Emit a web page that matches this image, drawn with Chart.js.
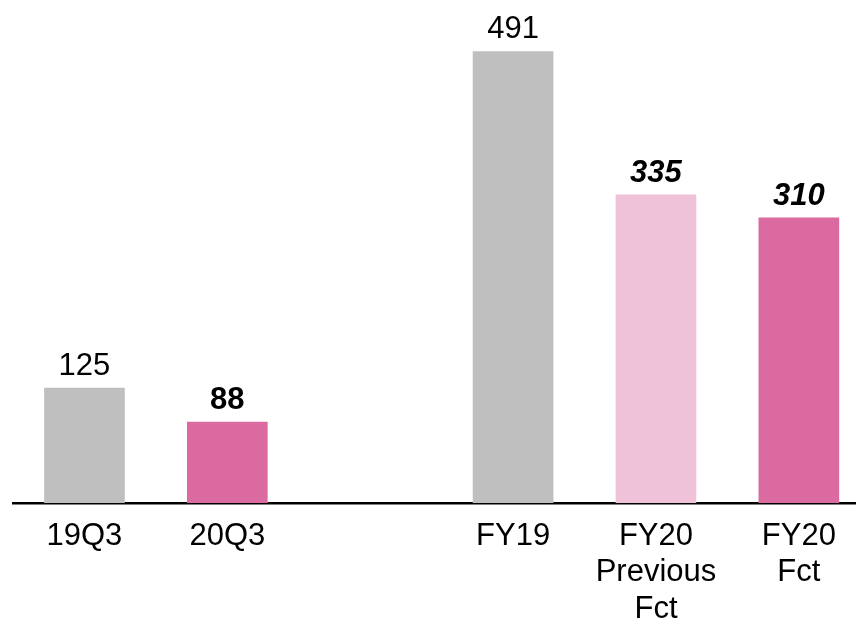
<!DOCTYPE html>
<html>
<head>
<meta charset="utf-8">
<script src="https://cdn.jsdelivr.net/npm/chart.js@4/dist/chart.umd.min.js"></script>
<style>
  html, body { margin: 0; padding: 0; background: #ffffff; overflow: hidden; }
  #wrap { position: relative; width: 856px; height: 623px; }
</style>
</head>
<body>
<div id="wrap"><canvas id="chart"></canvas></div>
<script>
// Category slots along the axis (the empty slot separates quarters from full years)
const categories = [
  ['19Q3'],
  ['20Q3'],
  [''],
  ['FY19'],
  ['FY20', 'Previous', 'Fct'],
  ['FY20', 'Fct']
];
// Values per slot (null = empty slot)
const values = [125, 88, null, 491, 335, 310];

// Appearance
const GRAY = '#BFBFBF';
const PINK = '#DB6AA0';
const LIGHT_PINK = '#F0C2DA';
const barColors = [GRAY, PINK, GRAY, GRAY, LIGHT_PINK, PINK];
const labelFonts = ['normal', 'bold', 'normal', 'normal', 'italic bold', 'italic bold'];
const FONT_FAMILY = "'Liberation Sans', Arial, sans-serif";
const FONT_SIZE = 31;

const points = [];
values.forEach((v, i) => { if (v !== null) points.push({ x: i, y: v }); });
const pointColors = [];
values.forEach((v, i) => { if (v !== null) pointColors.push(barColors[i]); });
const pointFonts = [];
values.forEach((v, i) => { if (v !== null) pointFonts.push(labelFonts[i]); });

// Value labels above each bar
const valueLabels = {
  id: 'valueLabels',
  afterDatasetsDraw(chart) {
    const ctx = chart.ctx;
    const meta = chart.getDatasetMeta(0);
    ctx.save();
    ctx.fillStyle = '#000000';
    ctx.textAlign = 'center';
    ctx.textBaseline = 'alphabetic';
    meta.data.forEach((bar, i) => {
      const raw = chart.data.datasets[0].data[i];
      ctx.font = pointFonts[i] + ' ' + FONT_SIZE + 'px ' + FONT_FAMILY;
      ctx.fillText(String(raw.y), bar.x, bar.y - 13);
    });
    ctx.restore();
  }
};

new Chart(document.getElementById('chart'), {
  type: 'bar',
  data: {
    datasets: [{
      data: points,
      backgroundColor: pointColors,
      borderWidth: 0,
      barThickness: 80
    }]
  },
  options: {
    responsive: true,
    maintainAspectRatio: false,
    animation: false,
    events: [],
    layout: { padding: { left: 13, right: 0, top: 0, bottom: 0 } },
    plugins: {
      legend: { display: false },
      tooltip: { enabled: false }
    },
    scales: {
      x: {
        type: 'linear',
        offset: false,
        min: -0.5,
        max: 5.4,
        z: 1,
        afterBuildTicks(axis) {
          axis.ticks = categories.map((c, i) => ({ value: i }));
        },
        afterFit(axis) { axis.height = 120; },
        grid: { display: false, drawTicks: false, offset: false },
        border: { display: true, color: '#000000', width: 2.5 },
        ticks: {
          autoSkip: false,
          maxRotation: 0,
          minRotation: 0,
          padding: 15,
          color: '#000000',
          font: { family: FONT_FAMILY, size: FONT_SIZE, lineHeight: 1.18 },
          callback: (v) => categories[v] || ''
        }
      },
      y: {
        display: false,
        min: 0,
        max: 547
      }
    }
  },
  plugins: [valueLabels]
});
</script>
</body>
</html>
